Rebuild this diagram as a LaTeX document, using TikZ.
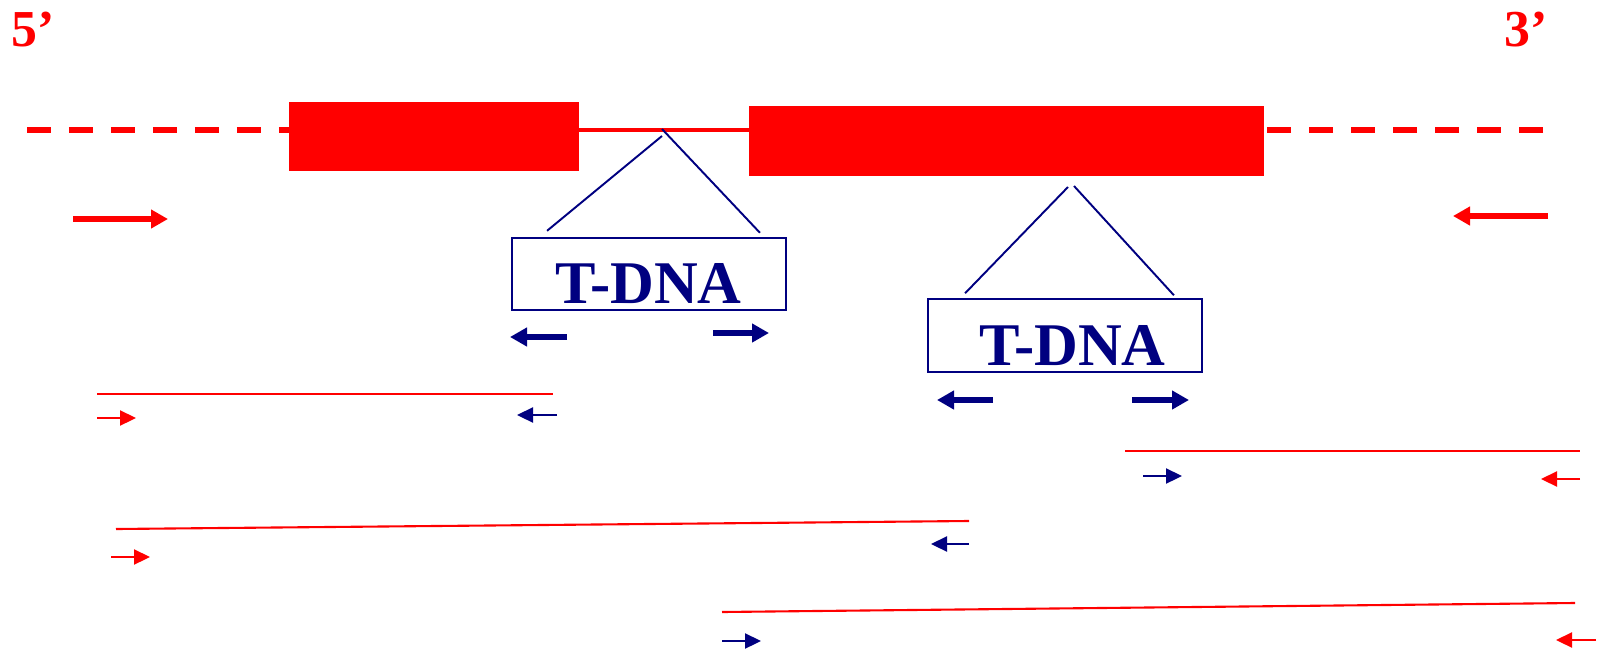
\documentclass[tikz,border=0pt]{standalone}
\usepackage{fontspec}
\setmainfont{Liberation Serif}
\usepackage{xcolor}
\usetikzlibrary{arrows.meta,positioning}
\definecolor{tnavy}{RGB}{0,0,128}
\tikzset{
  exon/.style={fill=red, inner sep=0pt, outer sep=0pt},
  backbone/.style={red, line width=3.4pt, dash pattern=on 0.48cm off 0.36cm},
  intron/.style={red, line width=2pt},
  tdnabox/.style={draw=tnavy, line width=1.1pt, minimum width=5.48cm, minimum height=1.45cm, inner sep=0pt},
  tdnatext/.style={text=tnavy, font=\fontsize{34.5}{38}\selectfont\bfseries, inner sep=0pt},
  insert/.style={tnavy, line width=1.1pt},
  bigprimer/.style={line width=3.2pt, -{Triangle[length=0.34cm,width=0.36cm]}},
  smallprimer/.style={line width=1.3pt, -{Triangle[length=0.32cm,width=0.3cm]}},
  product/.style={red, line width=1.2pt},
  endlabel/.style={text=red, font=\fontsize{29.5}{32}\selectfont\bfseries, inner sep=0pt, anchor=base west}
}

\begin{document}
\begin{tikzpicture}[x=0.02cm, y=-0.02cm]
\useasboundingbox (0,0) rectangle (1597,653);
% strand ends
\node[endlabel] (five) at (11,46) {5’};
\node[endlabel] (three) at (1504,46) {3’};
% gene: two exons joined by the intron, flanking sequence dashed
\node[exon, minimum width=5.8cm, minimum height=1.38cm] (exon1) at (434,136.5) {};
\node[exon, minimum width=10.3cm, minimum height=1.4cm] (exon2) at (1006.5,141) {};
\coordinate (start) at (27,130);
\coordinate (stop) at (1543,130);
\draw[backbone] (start) -- (start -| exon1.west);
\draw[intron] (exon1.east |- start) -- (exon2.west |- start);
\draw[backbone] (stop) -- (exon2.east |- stop);
% gene-specific primers
\draw[bigprimer, red] (73,219) -- (168,219);
\draw[bigprimer, red] (1548,216) -- (1453,216);
% first insertion, in the intron
\node[tdnabox] (tdna1) at (649,274) {};
\node[tdnatext] (lab1) at (648.5,284) {T-DNA};
\coordinate (ins1) at (662,129);
\draw[insert] ([shift={(0,7)}]ins1) -- ([shift={(36,-6)}]tdna1.north west);
\draw[insert] (ins1) -- ([shift={(-27,-4)}]tdna1.north east);
\draw[bigprimer, tnavy] (567,337) -- (510,337);
\draw[bigprimer, tnavy] (713,333) -- (769,333);
% second insertion, in exon 2
\node[tdnabox] (tdna2) at (1065,335.5) {};
\node[tdnatext] (lab2) at (1072.5,346) {T-DNA};
\coordinate (ins2) at (1071,186);
\draw[insert] ([shift={(-3,1)}]ins2) -- ([shift={(38,-5)}]tdna2.north west);
\draw[insert] ([shift={(3,0)}]ins2) -- ([shift={(-29,-3)}]tdna2.north east);
\draw[bigprimer, tnavy] (993,400) -- (937,400);
\draw[bigprimer, tnavy] (1132,400) -- (1189,400);
% PCR products with their primer pairs
\draw[product] (97,394) -- (553,394);
\draw[smallprimer, red] (97,418) -- (136,418);
\draw[smallprimer, tnavy] (557,415) -- (517,415);
\draw[product] (1125,451) -- (1580,451);
\draw[smallprimer, tnavy] (1143,476) -- (1182,476);
\draw[smallprimer, red] (1580,479) -- (1541,479);
\draw[product] (116,529) -- (969,521);
\draw[smallprimer, red] (111,557) -- (150,557);
\draw[smallprimer, tnavy] (969,544) -- (931,544);
\draw[product] (722,612) -- (1575,603);
\draw[smallprimer, tnavy] (722,641) -- (761,641);
\draw[smallprimer, red] (1596,640) -- (1556,640);
\end{tikzpicture}
\end{document}
